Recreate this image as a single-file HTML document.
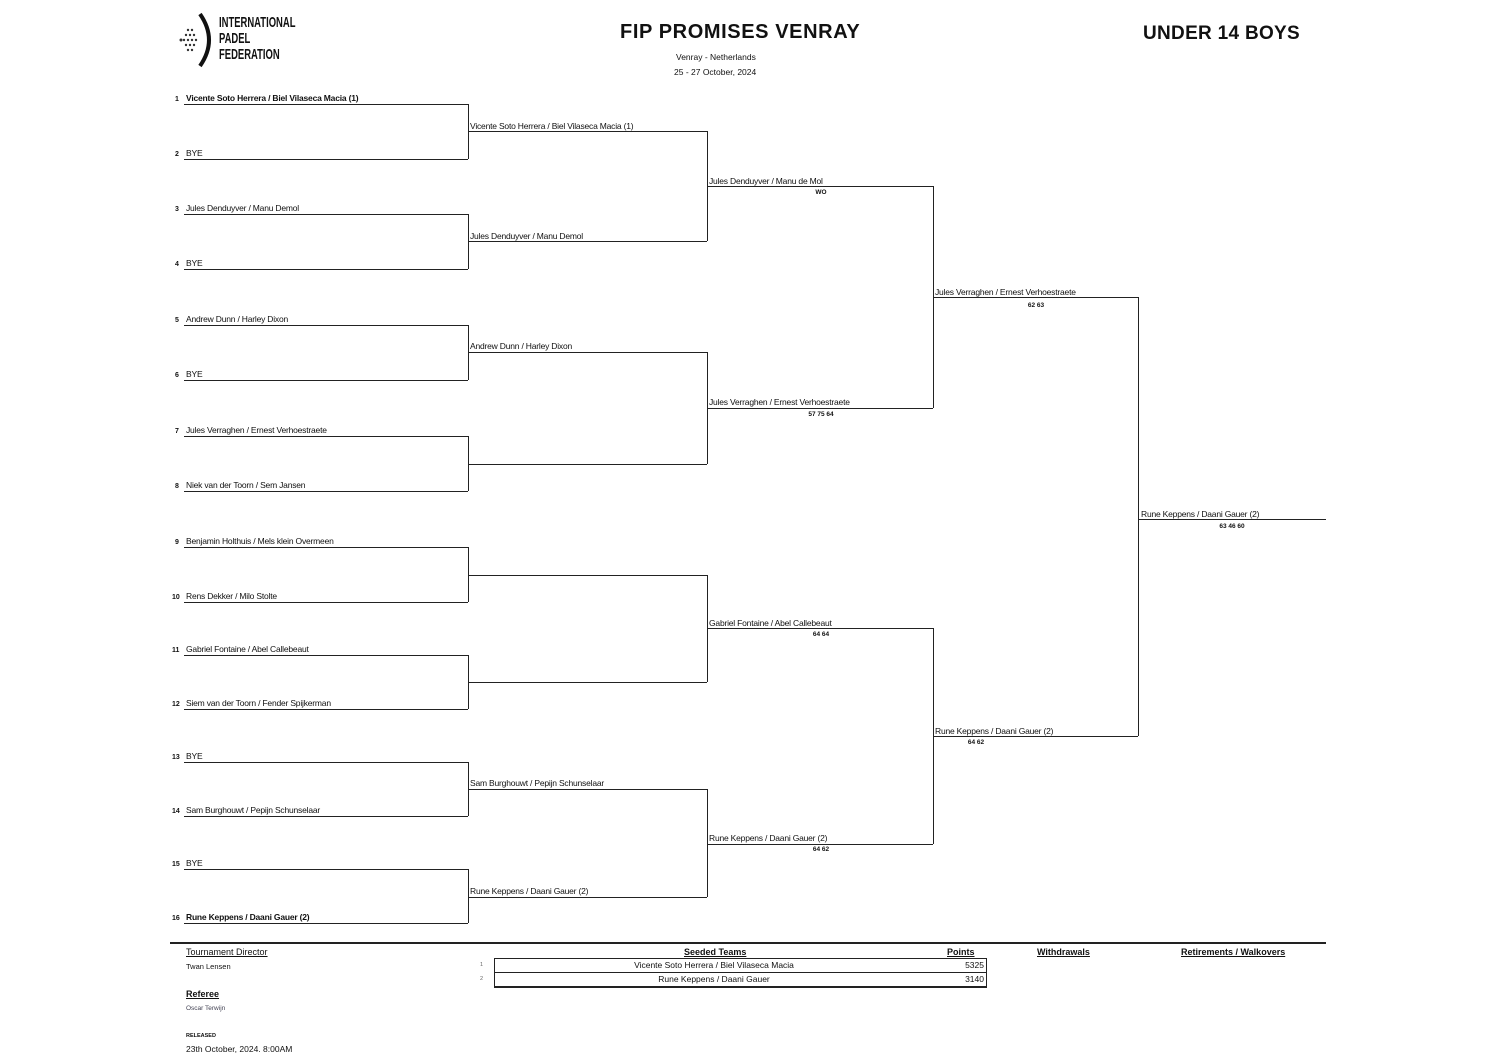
<!DOCTYPE html>
<html><head><meta charset="utf-8"><style>
body{margin:0;width:1497px;height:1058px;background:#fff;position:relative;overflow:hidden;font-family:"Liberation Sans",Arial,sans-serif;color:#111}
.h{position:absolute;height:0;border-top:1px solid #222}
.v{position:absolute;width:0;border-left:1px solid #222}
.t{position:absolute;font-size:8.5px;white-space:nowrap;letter-spacing:-0.2px}
.n{position:absolute;font-size:7px;font-weight:bold}
.s{position:absolute;font-size:6.5px;font-weight:bold;width:40px;text-align:center}
.b{font-weight:bold}
.u{position:absolute;font-size:9px;text-decoration:underline;font-weight:bold;white-space:nowrap}
</style></head><body>
<!-- logo -->
<svg style="position:absolute;left:178px;top:12px" width="40" height="56">
<path d="M22 2 Q40 28 22 54" stroke="#111" stroke-width="4" fill="none"/>
<g fill="#333"><circle cx="10" cy="18" r="1.2"/><circle cx="14" cy="18" r="1.2"/><circle cx="8" cy="23" r="1.2"/><circle cx="12" cy="23" r="1.2"/><circle cx="16" cy="23" r="1.2"/><circle cx="6" cy="28" r="1.2"/><circle cx="10" cy="28" r="1.2"/><circle cx="14" cy="28" r="1.2"/><circle cx="18" cy="28" r="1.2"/><circle cx="8" cy="33" r="1.2"/><circle cx="12" cy="33" r="1.2"/><circle cx="16" cy="33" r="1.2"/><circle cx="10" cy="38" r="1.2"/><circle cx="14" cy="38" r="1.2"/><circle cx="3" cy="28" r="1.5"/></g></svg>
<div style="position:absolute;left:219px;top:15px;font-size:15px;line-height:16px;font-weight:bold;transform:scaleX(0.63);transform-origin:left top;color:#111">INTERNATIONAL<br>PADEL<br>FEDERATION</div>
<div style="position:absolute;left:620px;top:21px;font-size:20px;letter-spacing:0.6px;font-weight:bold">FIP PROMISES VENRAY</div>
<div style="position:absolute;left:676px;top:52px;font-size:8.5px">Venray - Netherlands</div>
<div style="position:absolute;left:674px;top:67px;font-size:8.5px">25 - 27 October, 2024</div>
<div style="position:absolute;left:1143px;top:23px;font-size:19px;letter-spacing:0.3px;font-weight:bold">UNDER 14 BOYS</div>

<!-- Round 1 -->
<div class="h" style="left:184px;width:284px;top:104px"></div><div class="n" style="left:175px;top:96px">1</div><div class="t b" style="left:186px;top:93px">Vicente Soto Herrera / Biel Vilaseca Macia (1)</div>
<div class="h" style="left:184px;width:284px;top:159px"></div><div class="n" style="left:175px;top:151px">2</div><div class="t" style="left:186px;top:148px">BYE</div>
<div class="h" style="left:184px;width:284px;top:214px"></div><div class="n" style="left:175px;top:206px">3</div><div class="t" style="left:186px;top:203px">Jules Denduyver / Manu Demol</div>
<div class="h" style="left:184px;width:284px;top:269px"></div><div class="n" style="left:175px;top:261px">4</div><div class="t" style="left:186px;top:258px">BYE</div>
<div class="h" style="left:184px;width:284px;top:325px"></div><div class="n" style="left:175px;top:317px">5</div><div class="t" style="left:186px;top:314px">Andrew Dunn / Harley Dixon</div>
<div class="h" style="left:184px;width:284px;top:380px"></div><div class="n" style="left:175px;top:372px">6</div><div class="t" style="left:186px;top:369px">BYE</div>
<div class="h" style="left:184px;width:284px;top:436px"></div><div class="n" style="left:175px;top:428px">7</div><div class="t" style="left:186px;top:425px">Jules Verraghen / Ernest Verhoestraete</div>
<div class="h" style="left:184px;width:284px;top:491px"></div><div class="n" style="left:175px;top:483px">8</div><div class="t" style="left:186px;top:480px">Niek van der Toorn / Sem Jansen</div>
<div class="h" style="left:184px;width:284px;top:547px"></div><div class="n" style="left:175px;top:539px">9</div><div class="t" style="left:186px;top:536px">Benjamin Holthuis / Mels klein Overmeen</div>
<div class="h" style="left:184px;width:284px;top:602px"></div><div class="n" style="left:172px;top:594px">10</div><div class="t" style="left:186px;top:591px">Rens Dekker / Milo Stolte</div>
<div class="h" style="left:184px;width:284px;top:655px"></div><div class="n" style="left:172px;top:647px">11</div><div class="t" style="left:186px;top:644px">Gabriel Fontaine / Abel Callebeaut</div>
<div class="h" style="left:184px;width:284px;top:709px"></div><div class="n" style="left:172px;top:701px">12</div><div class="t" style="left:186px;top:698px">Siem van der Toorn / Fender Spijkerman</div>
<div class="h" style="left:184px;width:284px;top:762px"></div><div class="n" style="left:172px;top:754px">13</div><div class="t" style="left:186px;top:751px">BYE</div>
<div class="h" style="left:184px;width:284px;top:816px"></div><div class="n" style="left:172px;top:808px">14</div><div class="t" style="left:186px;top:805px">Sam Burghouwt / Pepijn Schunselaar</div>
<div class="h" style="left:184px;width:284px;top:869px"></div><div class="n" style="left:172px;top:861px">15</div><div class="t" style="left:186px;top:858px">BYE</div>
<div class="h" style="left:184px;width:284px;top:923px"></div><div class="n" style="left:172px;top:915px">16</div><div class="t b" style="left:186px;top:912px">Rune Keppens / Daani Gauer (2)</div>
<div class="v" style="left:468px;top:104px;height:55px"></div>
<div class="v" style="left:468px;top:214px;height:55px"></div>
<div class="v" style="left:468px;top:325px;height:55px"></div>
<div class="v" style="left:468px;top:436px;height:55px"></div>
<div class="v" style="left:468px;top:547px;height:55px"></div>
<div class="v" style="left:468px;top:655px;height:54px"></div>
<div class="v" style="left:468px;top:762px;height:54px"></div>
<div class="v" style="left:468px;top:869px;height:54px"></div>

<!-- Round 2 -->
<div class="h" style="left:468px;width:239px;top:131px"></div><div class="t" style="left:470px;top:121px">Vicente Soto Herrera / Biel Vilaseca Macia (1)</div>
<div class="h" style="left:468px;width:239px;top:241px"></div><div class="t" style="left:470px;top:231px">Jules Denduyver / Manu Demol</div>
<div class="h" style="left:468px;width:239px;top:352px"></div><div class="t" style="left:470px;top:341px">Andrew Dunn / Harley Dixon</div>
<div class="h" style="left:468px;width:239px;top:464px"></div>
<div class="h" style="left:468px;width:239px;top:575px"></div>
<div class="h" style="left:468px;width:239px;top:682px"></div>
<div class="h" style="left:468px;width:239px;top:789px"></div><div class="t" style="left:470px;top:778px">Sam Burghouwt / Pepijn Schunselaar</div>
<div class="h" style="left:468px;width:239px;top:897px"></div><div class="t" style="left:470px;top:886px">Rune Keppens / Daani Gauer (2)</div>
<div class="v" style="left:707px;top:131px;height:110px"></div>
<div class="v" style="left:707px;top:352px;height:112px"></div>
<div class="v" style="left:707px;top:575px;height:107px"></div>
<div class="v" style="left:707px;top:789px;height:108px"></div>

<!-- Round 3 -->
<div class="h" style="left:707px;width:226px;top:186px"></div><div class="t" style="left:709px;top:176px">Jules Denduyver / Manu de Mol</div><div class="s" style="left:801px;top:189px">WO</div>
<div class="h" style="left:707px;width:226px;top:408px"></div><div class="t" style="left:709px;top:397px">Jules Verraghen / Ernest Verhoestraete</div><div class="s" style="left:801px;top:411px">57 75 64</div>
<div class="h" style="left:707px;width:226px;top:628px"></div><div class="t" style="left:709px;top:618px">Gabriel Fontaine / Abel Callebeaut</div><div class="s" style="left:801px;top:631px">64 64</div>
<div class="h" style="left:707px;width:226px;top:844px"></div><div class="t" style="left:709px;top:833px">Rune Keppens / Daani Gauer (2)</div><div class="s" style="left:801px;top:846px">64 62</div>
<div class="v" style="left:933px;top:186px;height:222px"></div>
<div class="v" style="left:933px;top:628px;height:216px"></div>

<!-- Round 4 -->
<div class="h" style="left:933px;width:205px;top:297px"></div><div class="t" style="left:935px;top:287px">Jules Verraghen / Ernest Verhoestraete</div><div class="s" style="left:1016px;top:302px">62 63</div>
<div class="h" style="left:933px;width:205px;top:736px"></div><div class="t" style="left:935px;top:726px">Rune Keppens / Daani Gauer (2)</div><div class="s" style="left:956px;top:739px">64 62</div>
<div class="v" style="left:1138px;top:297px;height:439px"></div>

<!-- Final -->
<div class="h" style="left:1138px;width:188px;top:519px"></div><div class="t" style="left:1141px;top:509px">Rune Keppens / Daani Gauer (2)</div><div class="s" style="left:1212px;top:523px">63 46 60</div>

<!-- Footer -->
<div style="position:absolute;left:170px;top:942px;width:1156px;height:2px;background:#222"></div>
<div style="position:absolute;left:186px;top:947px;font-size:9px;text-decoration:underline">Tournament Director</div>
<div style="position:absolute;left:186px;top:962px;font-size:7.5px">Twan Lensen</div>
<div class="u" style="left:186px;top:989px">Referee</div>
<div style="position:absolute;left:186px;top:1005px;font-size:6.5px;color:#445">Oscar Terwijn</div>
<div style="position:absolute;left:186px;top:1033px;font-size:5.5px;font-weight:bold">RELEASED</div>
<div style="position:absolute;left:186px;top:1044px;font-size:8.5px">23th October, 2024. 8:00AM</div>
<div class="u" style="left:684px;top:947px">Seeded Teams</div>
<div class="u" style="left:947px;top:947px">Points</div>
<div class="u" style="left:1037px;top:947px">Withdrawals</div>
<div class="u" style="left:1181px;top:947px">Retirements / Walkovers</div>
<div style="position:absolute;left:480px;top:962px;font-size:5.5px;color:#666">1</div>
<div style="position:absolute;left:480px;top:976px;font-size:5.5px;color:#666">2</div>
<div style="position:absolute;left:494px;top:958px;width:491px;height:27px;border:1px solid #222;border-bottom-width:2px"></div>
<div style="position:absolute;left:494px;top:972px;width:492px;height:0;border-top:1px solid #222"></div>
<div style="position:absolute;left:494px;top:960px;width:440px;text-align:center;font-size:8.5px">Vicente Soto Herrera / Biel Vilaseca Macia</div>
<div style="position:absolute;left:494px;top:974px;width:440px;text-align:center;font-size:8.5px">Rune Keppens / Daani Gauer</div>
<div style="position:absolute;left:940px;top:960px;width:44px;text-align:right;font-size:8.5px">5325</div>
<div style="position:absolute;left:940px;top:974px;width:44px;text-align:right;font-size:8.5px">3140</div>
</body></html>
